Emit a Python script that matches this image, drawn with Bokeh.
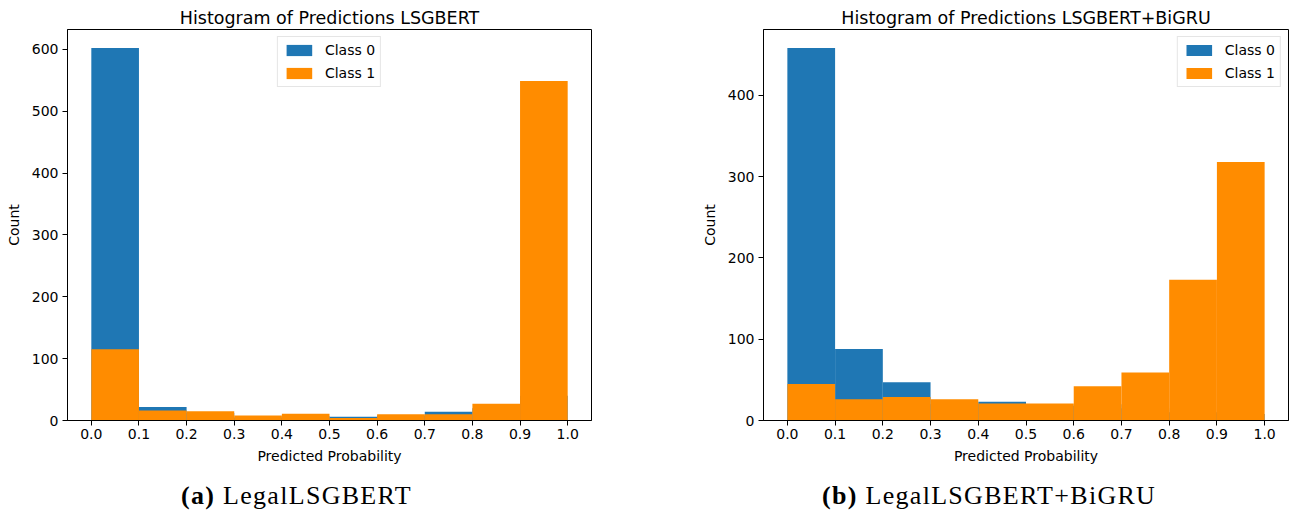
from bokeh.plotting import figure
from bokeh.models import Range1d, FixedTicker, Div, PrintfTickFormatter
from bokeh.layouts import row, column
from bokeh.embed import file_html
from bokeh.resources import INLINE

# ---- data ----
bin_edges = [0.0, 0.1, 0.2, 0.3, 0.4, 0.5, 0.6, 0.7, 0.8, 0.9, 1.0]
lsg_class0 = [602, 22, 12, 5, 7, 6, 8, 14, 20, 40]
lsg_class1 = [115, 16, 15, 8, 11, 4, 10, 10, 27, 549]
gru_class0 = [458, 88, 47, 20, 23, 18, 20, 15, 10, 8]
gru_class1 = [45, 26, 29, 26, 21, 21, 42, 59, 173, 318]
x_ticks = [0.0, 0.1, 0.2, 0.3, 0.4, 0.5, 0.6, 0.7, 0.8, 0.9, 1.0]
lsg_y_ticks = [0, 100, 200, 300, 400, 500, 600]
gru_y_ticks = [0, 100, 200, 300, 400]
titles = ["Histogram of Predictions LSGBERT", "Histogram of Predictions LSGBERT+BiGRU"]
series_labels = ["Class 0", "Class 1"]
captions = [("(a)", "LegalLSGBERT"), ("(b)", "LegalLSGBERT+BiGRU")]

BLUE = "#1f77b4"
ORANGE = "#ff8c00"
FONT = "DejaVu Sans"


def make_fig(title, c0, c1, yticks, legend_loc, width, border_left, border_right):
    ymax = max(max(c0), max(c1)) * 1.05
    p = figure(width=width, height=468, output_backend="svg", toolbar_location=None,
               x_range=Range1d(-0.05, 1.05), y_range=Range1d(0, ymax),
               title=title, min_border_left=border_left, min_border_right=border_right,
               min_border_top=29, min_border_bottom=48)
    p.title.text_font = FONT
    p.title.text_font_size = "17.5px"
    p.title.text_font_style = "normal"
    p.title.align = "center"
    p.title.text_color = "black"
    p.title.standoff = 3
    left = bin_edges[:-1]
    right = bin_edges[1:]
    p.quad(left=left, right=right, bottom=0, top=c0, fill_color=BLUE, line_color=None,
           legend_label=series_labels[0])
    p.quad(left=left, right=right, bottom=0, top=c1, fill_color=ORANGE, line_color=None,
           legend_label=series_labels[1])
    p.xgrid.visible = False
    p.ygrid.visible = False
    p.outline_line_color = "black"
    p.outline_line_width = 1
    p.outline_line_alpha = 1
    for ax in (p.xaxis[0], p.yaxis[0]):
        ax.major_tick_in = 0
        ax.major_tick_out = 5
        ax.minor_tick_line_color = None
        ax.major_label_text_font = FONT
        ax.major_label_text_font_size = "14px"
        ax.major_label_text_color = "black"
        ax.axis_label_text_font = FONT
        ax.axis_label_text_font_size = "14px"
        ax.axis_label_text_font_style = "normal"
        ax.axis_label_text_color = "black"
        ax.axis_line_color = "black"
        ax.major_tick_line_color = "black"
    p.xaxis.ticker = FixedTicker(ticks=x_ticks)
    p.xaxis.formatter = PrintfTickFormatter(format="%.1f")
    p.yaxis.ticker = FixedTicker(ticks=yticks)
    p.xaxis.axis_label = "Predicted Probability"
    p.yaxis.axis_label = "Count"
    p.xaxis.major_label_standoff = 3
    p.yaxis.major_label_standoff = 4
    p.xaxis.axis_label_standoff = 6
    p.yaxis.axis_label_standoff = 7
    lg = p.legend[0]
    lg.location = legend_loc
    lg.label_text_font = FONT
    lg.label_text_font_size = "14px"
    lg.label_text_color = "black"
    lg.glyph_width = 32
    lg.glyph_height = 14
    lg.label_height = 15
    lg.label_standoff = 10
    lg.padding = 5
    lg.spacing = 7
    lg.margin = 7
    lg.border_line_color = "#cccccc"
    lg.border_line_width = 1
    lg.background_fill_alpha = 0.8
    return p


p1 = make_fig(titles[0], lsg_class0, lsg_class1, lsg_y_ticks, "top_center", 650, 67, 59)
p2 = make_fig(titles[1], gru_class0, gru_class1, gru_y_ticks, "top_right", 642, 113, 4)


def caption(tag, name, width, pad_left):
    html = ('<div style="padding-left:%dpx;padding-top:9px;font-family:\'Liberation Serif\',serif;'
            'font-size:26px;letter-spacing:1.3px;color:black;white-space:nowrap;">'
            '<b>%s</b> %s</div>' % (pad_left, tag, name))
    return Div(text=html, width=width, height=40, margin=(0, 0, 0, 0))


d1 = caption(captions[0][0], captions[0][1], 650, 181)
d2 = caption(captions[1][0], captions[1][1], 642, 172)

layout = column(row(p1, p2), row(d1, d2))
open("out.html", "w").write(file_html(layout, INLINE))
